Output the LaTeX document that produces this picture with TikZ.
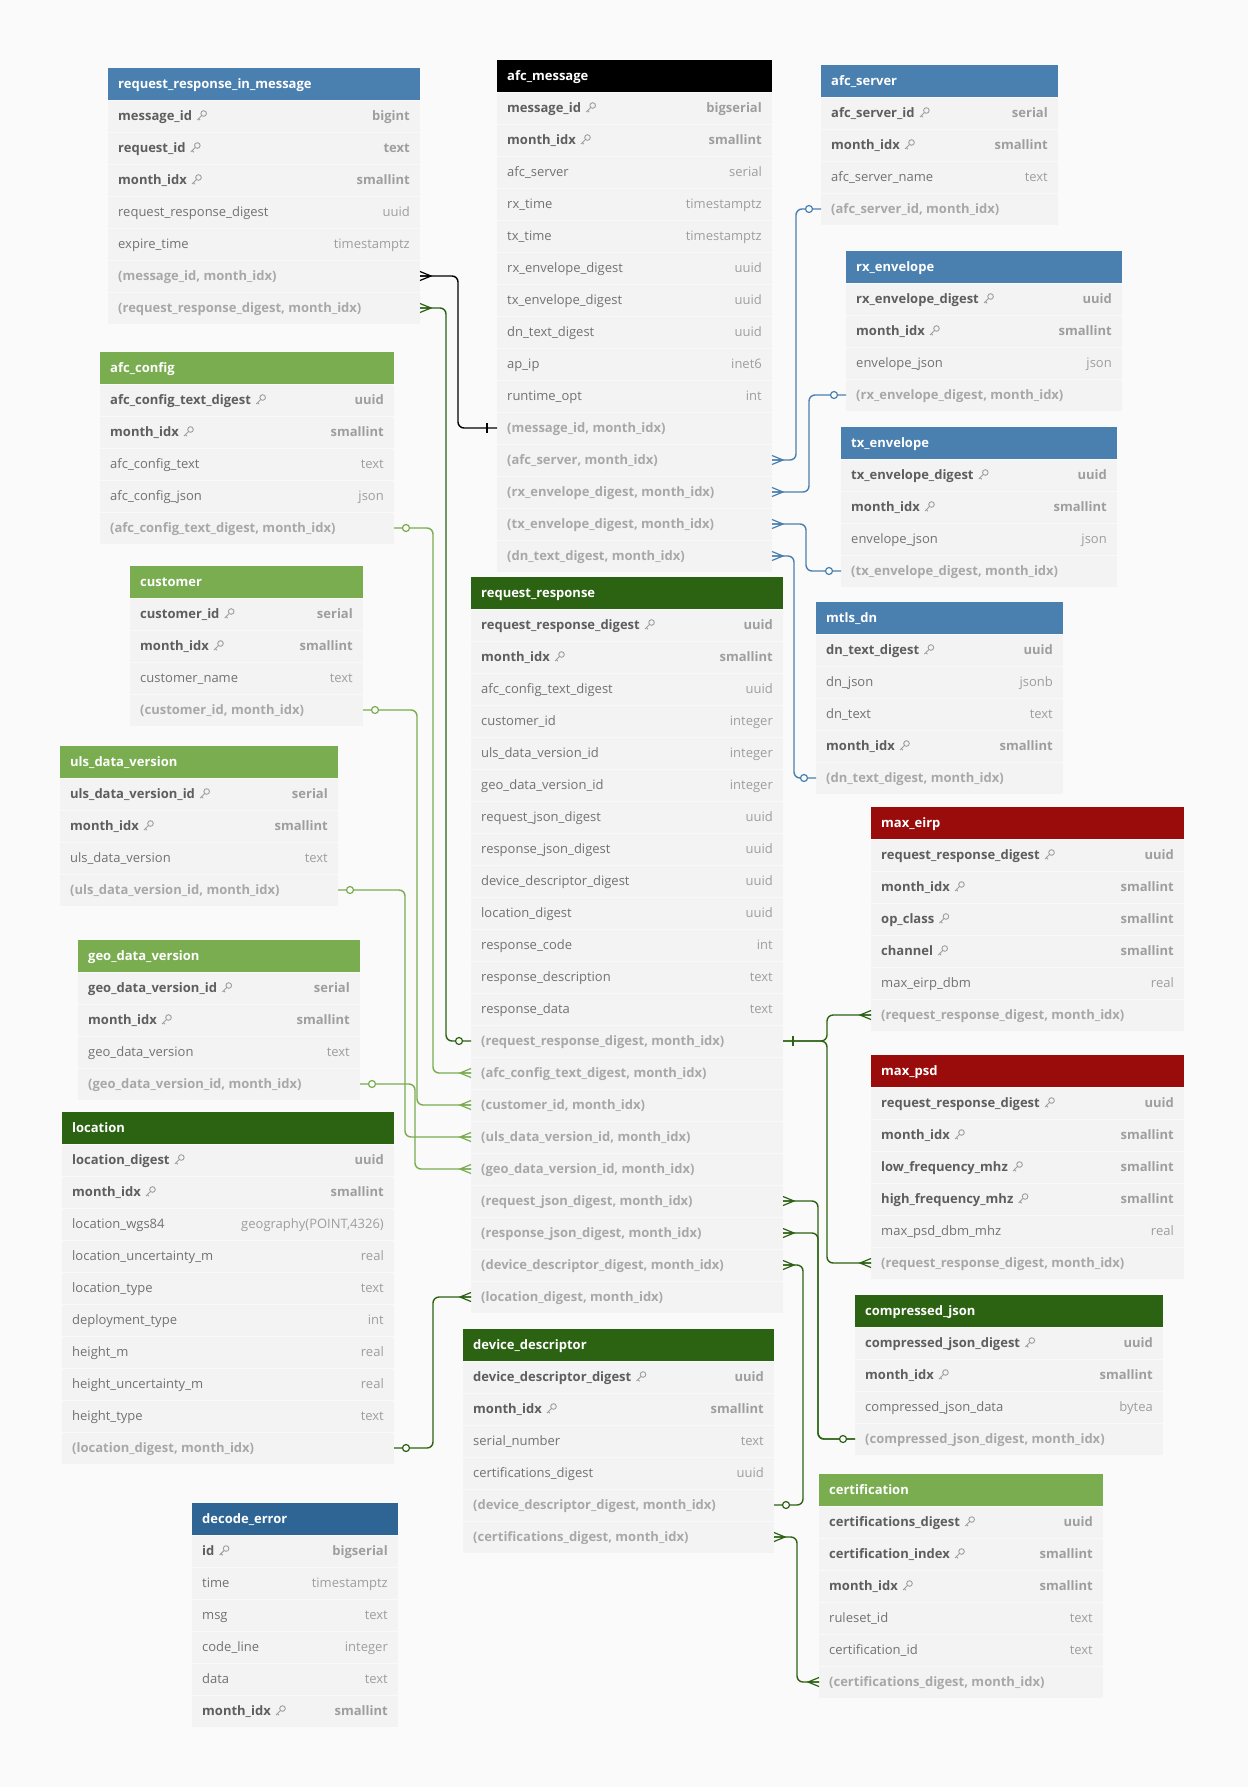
\documentclass[tikz,border=0pt]{standalone}
\usepackage{fontspec}
\setmainfont{Open Sans}

\definecolor{bgcol}{HTML}{FAFAFA}
\definecolor{rowcol}{HTML}{F3F3F3}
\definecolor{sepcol}{HTML}{F9F9F9}
\definecolor{steel}{HTML}{4A80B0}
\definecolor{navy}{HTML}{2F6595}
\definecolor{leaf}{HTML}{79AD50}
\definecolor{forest}{HTML}{2C6313}
\definecolor{crimson}{HTML}{9A0C0C}
\definecolor{keygray}{HTML}{5E5E5E}
\definecolor{plaingray}{HTML}{727272}
\definecolor{idxgray}{HTML}{A8A8A8}
\definecolor{typegray}{HTML}{9E9E9E}

\def\keykind{keyf}

% table: name, x, y (top), width, header colour, title, rows
\newcommand{\erdtable}[7]{%
  \fill[#5] (#2,#3) rectangle ++(#4,32);
  \node[headtext] (#1) at (#2+10,#3+20.5) {#6};
  \foreach [count=\r] \f/\t/\s in {#7} {
    \pgfmathsetmacro\yy{#3+32*\r}
    \fill[rowfill] (#2,\yy) rectangle ++(#4,32);
    \draw[rowsep] (#2,\yy) -- ++(#4,0);
    \node[fieldtext, \s] (#1-\r-f) at (#2+10,\yy+20.5) {\f};
    \node[typetext, \s, text=typegray] at (#2+#4-10,\yy+20.5) {\t};
    \edef\rowkind{\s}
    \ifx\rowkind\keykind \pic at (#1-\r-f.base east) {keyicon}; \fi
    \coordinate (#1-\r-w) at (#2,\yy+16);
    \coordinate (#1-\r-e) at (#2+#4,\yy+16);
  }
}

\begin{document}
\catcode`\_=12
\fontsize{13}{15.6}\selectfont
\begin{tikzpicture}[
    x=1pt, y=-1pt,
    headtext/.style={anchor=base west, inner sep=0pt, text=white, font=\bfseries},
    fieldtext/.style={anchor=base west, inner sep=0pt},
    typetext/.style={anchor=base east, inner sep=0pt},
    keyf/.style={font=\bfseries, text=keygray},
    plainf/.style={text=plaingray},
    idxf/.style={font=\bfseries, text=idxgray},
    rowfill/.style={fill=rowcol},
    rowsep/.style={draw=sepcol, line width=0.8pt},
    link/.style={line width=1.4pt, rounded corners=6pt},
    many/.pic={\draw[line width=1.2pt] (0,-4.5) -- (11,0) -- (0,4.5) (0,0) -- (11,0);},
    one/.pic={\draw[line width=1.2pt] (10,-5) -- (10,5);},
    zero/.pic={\draw[line width=1.2pt, fill=bgcol] (12,0) circle (3.5);},
    keyicon/.pic={\draw[typegray, line width=0.9pt] (11.5,-7) circle (2.8)
        (9.5,-5) -- (5,-0.5) (6.4,-1.9) -- (8,-0.3);}
]

% Background
\fill[bgcol] (0,0) rectangle (1248,1787);

% Blue tables
\erdtable{rrim}{108}{68}{312}{steel}{request_response_in_message}{%
message_id/bigint/keyf, request_id/text/keyf, month_idx/smallint/keyf,
request_response_digest/uuid/plainf, expire_time/timestamptz/plainf,
{(message_id, month_idx)}//idxf, {(request_response_digest, month_idx)}//idxf}

\erdtable{afcserver}{821}{65}{237}{steel}{afc_server}{%
afc_server_id/serial/keyf, month_idx/smallint/keyf, afc_server_name/text/plainf,
{(afc_server_id, month_idx)}//idxf}

\erdtable{rxenv}{846}{251}{276}{steel}{rx_envelope}{%
rx_envelope_digest/uuid/keyf, month_idx/smallint/keyf, envelope_json/json/plainf,
{(rx_envelope_digest, month_idx)}//idxf}

\erdtable{txenv}{841}{427}{276}{steel}{tx_envelope}{%
tx_envelope_digest/uuid/keyf, month_idx/smallint/keyf, envelope_json/json/plainf,
{(tx_envelope_digest, month_idx)}//idxf}

\erdtable{mtlsdn}{816}{602}{247}{steel}{mtls_dn}{%
dn_text_digest/uuid/keyf, dn_json/jsonb/plainf, dn_text/text/plainf,
month_idx/smallint/keyf, {(dn_text_digest, month_idx)}//idxf}

\erdtable{decodeerr}{192}{1503}{206}{navy}{decode_error}{%
id/bigserial/keyf, time/timestamptz/plainf, msg/text/plainf,
code_line/integer/plainf, data/text/plainf, month_idx/smallint/keyf}

% Message table
\erdtable{afcmsg}{497}{60}{275}{black}{afc_message}{%
message_id/bigserial/keyf, month_idx/smallint/keyf, afc_server/serial/plainf,
rx_time/timestamptz/plainf, tx_time/timestamptz/plainf,
rx_envelope_digest/uuid/plainf, tx_envelope_digest/uuid/plainf,
dn_text_digest/uuid/plainf, ap_ip/inet6/plainf, runtime_opt/int/plainf,
{(message_id, month_idx)}//idxf, {(afc_server, month_idx)}//idxf,
{(rx_envelope_digest, month_idx)}//idxf, {(tx_envelope_digest, month_idx)}//idxf,
{(dn_text_digest, month_idx)}//idxf}

% Light green tables
\erdtable{afcconfig}{100}{352}{294}{leaf}{afc_config}{%
afc_config_text_digest/uuid/keyf, month_idx/smallint/keyf,
afc_config_text/text/plainf, afc_config_json/json/plainf,
{(afc_config_text_digest, month_idx)}//idxf}

\erdtable{customer}{130}{566}{233}{leaf}{customer}{%
customer_id/serial/keyf, month_idx/smallint/keyf, customer_name/text/plainf,
{(customer_id, month_idx)}//idxf}

\erdtable{uls}{60}{746}{278}{leaf}{uls_data_version}{%
uls_data_version_id/serial/keyf, month_idx/smallint/keyf,
uls_data_version/text/plainf, {(uls_data_version_id, month_idx)}//idxf}

\erdtable{geo}{78}{940}{282}{leaf}{geo_data_version}{%
geo_data_version_id/serial/keyf, month_idx/smallint/keyf,
geo_data_version/text/plainf, {(geo_data_version_id, month_idx)}//idxf}

\erdtable{cert}{819}{1474}{284}{leaf}{certification}{%
certifications_digest/uuid/keyf, certification_index/smallint/keyf,
month_idx/smallint/keyf, ruleset_id/text/plainf, certification_id/text/plainf,
{(certifications_digest, month_idx)}//idxf}

% Dark green tables
\erdtable{location}{62}{1112}{332}{forest}{location}{%
location_digest/uuid/keyf, month_idx/smallint/keyf,
location_wgs84/{geography(POINT,4326)}/plainf,
location_uncertainty_m/real/plainf, location_type/text/plainf,
deployment_type/int/plainf, height_m/real/plainf,
height_uncertainty_m/real/plainf, height_type/text/plainf,
{(location_digest, month_idx)}//idxf}

\erdtable{rr}{471}{577}{312}{forest}{request_response}{%
request_response_digest/uuid/keyf, month_idx/smallint/keyf,
afc_config_text_digest/uuid/plainf, customer_id/integer/plainf,
uls_data_version_id/integer/plainf, geo_data_version_id/integer/plainf,
request_json_digest/uuid/plainf, response_json_digest/uuid/plainf,
device_descriptor_digest/uuid/plainf, location_digest/uuid/plainf,
response_code/int/plainf, response_description/text/plainf,
response_data/text/plainf,
{(request_response_digest, month_idx)}//idxf,
{(afc_config_text_digest, month_idx)}//idxf,
{(customer_id, month_idx)}//idxf,
{(uls_data_version_id, month_idx)}//idxf,
{(geo_data_version_id, month_idx)}//idxf,
{(request_json_digest, month_idx)}//idxf,
{(response_json_digest, month_idx)}//idxf,
{(device_descriptor_digest, month_idx)}//idxf,
{(location_digest, month_idx)}//idxf}

\erdtable{devdesc}{463}{1329}{311}{forest}{device_descriptor}{%
device_descriptor_digest/uuid/keyf, month_idx/smallint/keyf,
serial_number/text/plainf, certifications_digest/uuid/plainf,
{(device_descriptor_digest, month_idx)}//idxf,
{(certifications_digest, month_idx)}//idxf}

\erdtable{compjson}{855}{1295}{308}{forest}{compressed_json}{%
compressed_json_digest/uuid/keyf, month_idx/smallint/keyf,
compressed_json_data/bytea/plainf, {(compressed_json_digest, month_idx)}//idxf}

% Red tables
\erdtable{maxeirp}{871}{807}{313}{crimson}{max_eirp}{%
request_response_digest/uuid/keyf, month_idx/smallint/keyf,
op_class/smallint/keyf, channel/smallint/keyf, max_eirp_dbm/real/plainf,
{(request_response_digest, month_idx)}//idxf}

\erdtable{maxpsd}{871}{1055}{313}{crimson}{max_psd}{%
request_response_digest/uuid/keyf, month_idx/smallint/keyf,
low_frequency_mhz/smallint/keyf, high_frequency_mhz/smallint/keyf,
max_psd_dbm_mhz/real/plainf, {(request_response_digest, month_idx)}//idxf}

% Links to afc_message
\draw[link, black] (rrim-6-e) -- ++(38,0) |- (afcmsg-11-w);
\pic[black] at (rrim-6-e) {many};
\pic[black, xscale=-1] at (afcmsg-11-w) {one};

% Links from afc_message to blue tables
\foreach \i/\j/\d in {12/afcserver-4/24, 13/rxenv-4/37, 14/txenv-4/34, 15/mtlsdn-5/22} {
    \draw[link, steel] (afcmsg-\i-e) -- ++(\d,0) |- (\j-w);
    \pic[steel] at (afcmsg-\i-e) {many};
    \pic[steel, xscale=-1] at (\j-w) {zero};
}

% Link request_response_in_message -> request_response
\draw[link, forest] (rrim-7-e) -- ++(26,0) |- (rr-14-w);
\pic[forest] at (rrim-7-e) {many};
\pic[forest, xscale=-1] at (rr-14-w) {zero};

% Links from light green tables to request_response
\foreach \i/\j/\d in {afcconfig-5/15/39, customer-4/16/54, uls-4/17/67, geo-4/18/55} {
    \draw[link, leaf] (\i-e) -- ++(\d,0) |- (rr-\j-w);
    \pic[leaf] at (\i-e) {zero};
    \pic[leaf, xscale=-1] at (rr-\j-w) {many};
}

% Link location -> request_response
\draw[link, forest] (location-10-e) -- ++(39,0) |- (rr-22-w);
\pic[forest] at (location-10-e) {zero};
\pic[forest, xscale=-1] at (rr-22-w) {many};

% Links request_response -> max_eirp, max_psd
\draw[link, forest] (rr-14-e) -- ++(44,0) |- (maxeirp-6-w);
\draw[link, forest] (rr-14-e) -- ++(44,0) |- (maxpsd-6-w);
\pic[forest] at (rr-14-e) {one};
\pic[forest, xscale=-1] at (maxeirp-6-w) {many};
\pic[forest, xscale=-1] at (maxpsd-6-w) {many};

% Links request_response -> compressed_json
\foreach \i in {19, 20} {
    \draw[link, forest] (rr-\i-e) -- ++(35,0) |- (compjson-4-w);
    \pic[forest] at (rr-\i-e) {many};
}
\pic[forest, xscale=-1] at (compjson-4-w) {zero};

% Link device_descriptor -> request_response
\draw[link, forest] (devdesc-5-e) -- ++(29,0) |- (rr-21-e);
\pic[forest] at (devdesc-5-e) {zero};
\pic[forest] at (rr-21-e) {many};

% Link device_descriptor -> certification
\draw[link, forest] (devdesc-6-e) -- ++(23,0) |- (cert-6-w);
\pic[forest] at (devdesc-6-e) {many};
\pic[forest, xscale=-1] at (cert-6-w) {many};

\end{tikzpicture}
\end{document}
